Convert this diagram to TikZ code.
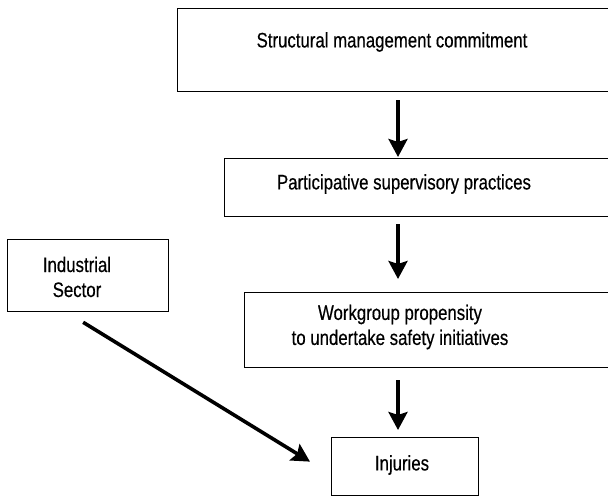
\documentclass[tikz,border=0pt]{standalone}
\usepackage{fontspec}
\setmainfont[FakeStretch=0.8,FakeBold=0.4]{Liberation Sans}
\usetikzlibrary{arrows.meta,calc}
\begin{document}
\begin{tikzpicture}[x=1pt,y=-1pt,
  box/.style={draw=black,line width=1.3pt,rectangle,inner sep=0pt},
  label/.style={font=\fontsize{21}{25}\selectfont,align=center,inner sep=0pt},
  flow/.style={line width=3.6pt,
    -{Stealth[length=18pt,width=19pt,inset=3pt]}}]
\useasboundingbox (0,0) rectangle (608,502);
\clip (0,0) rectangle (608,502);
\fill[white] (0,0) rectangle (608,502);

% boxes of the causal chain (right sides run off the page)
\node[box,anchor=north west,minimum width=433pt,minimum height=83pt] (smc) at (177,8) {};
\node[box,anchor=north west,minimum width=392pt,minimum height=58pt] (psp) at (224,158) {};
\node[box,anchor=north west,minimum width=372pt,minimum height=75pt] (wgp) at (244,292) {};
\node[box,anchor=north west,minimum width=147pt,minimum height=58pt] (inj) at (331,437) {};
\node[box,anchor=north west,minimum width=161pt,minimum height=72pt] (ind) at (7,239) {};

% box texts
\node[label] (smctxt) at (392,42) {Structural management commitment};
\node[label] (psptxt) at (404,184) {Participative supervisory practices};
\node[label] (wgptxt) at (400,327) {Workgroup propensity\\to undertake safety initiatives};
\node[label] (injtxt) at (402,465) {Injuries};
\node[label] (indtxt) at (77,277) {Industrial\\Sector};

% arrows
\coordinate (col) at (398,0);
\draw[flow,shorten <=8pt,shorten >=1pt] (smc.south -| col) -- (psp.north -| col);
\draw[flow,shorten <=7pt,shorten >=13pt] (psp.south -| col) -- (wgp.north -| col);
\draw[flow,shorten <=12pt,shorten >=7pt] (wgp.south -| col) -- (inj.north -| col);
\draw[flow] ($(ind.south)+(-5,10)$) -- ($(inj.west)+(-21,-5)$);
\end{tikzpicture}
\end{document}
